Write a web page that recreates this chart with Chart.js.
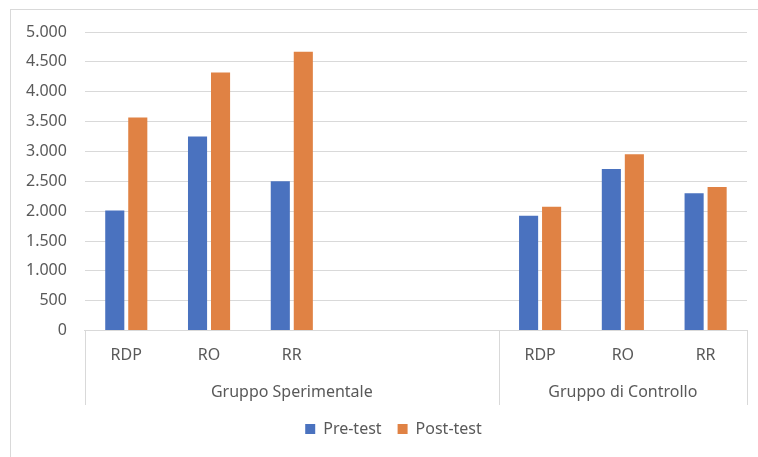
<html>
<body style="margin:0;background:#fff">
  <script src="https://cdn.jsdelivr.net/npm/chart.js@4.4.0/dist/chart.umd.min.js"></script>
  <canvas id="myChart" width="758" height="457"></canvas>
  <script>
    var categories = ['RDP', 'RO', 'RR', '', '', 'RDP', 'RO', 'RR']
    var groups = ['', '', 'Gruppo Sperimentale', '', '', '', 'Gruppo di Controllo', '']
    var preTest = [2010, 3250, 2500, null, null, 1925, 2705, 2300]
    var postTest = [3570, 4320, 4670, null, null, 2075, 2955, 2405]
    var groupEdges = [-0.5, 4.5, 7.5]

    var grey = '#595959'
    var lineGrey = '#D9D9D9'
    Chart.defaults.font.family = "'Noto Sans', sans-serif"
    Chart.defaults.font.size = 16
    Chart.defaults.color = grey

    function fmt(v) {
      return String(v).replace(/\B(?=(\d{3})+(?!\d))/g, '.')
    }

    // outer frame + group separators under the category axis
    var extras = {
      id: 'extras',
      afterLayout: function(chart) {
        // legend sits a bit right of centre in the original
        chart.legend.left += 16
        chart.legend.right += 16
      },
      beforeDraw: function(chart) {
        var c = chart.ctx
        c.save()
        c.fillStyle = '#fff'
        c.fillRect(0, 0, chart.width, chart.height)
        c.strokeStyle = lineGrey
        c.lineWidth = 1
        c.strokeRect(10.5, 9.5, chart.width, chart.height)
        c.restore()
      },
      afterDraw: function(chart) {
        var c = chart.ctx
        var x = chart.scales.x
        var bottom = chart.scales.x2.bottom
        c.save()
        c.strokeStyle = lineGrey
        c.lineWidth = 1
        groupEdges.forEach(function(e) {
          var px = Math.round(x.getPixelForValue(e)) + 0.5
          c.beginPath()
          c.moveTo(px, chart.chartArea.bottom)
          c.lineTo(px, bottom)
          c.stroke()
        })
        c.restore()
      }
    }

    var ctx = document.getElementById('myChart').getContext('2d')
    var myChart = new Chart(ctx, {
      type: 'bar',
      data: {
        labels: categories,
        datasets: [{
          label: 'Pre-test',
          data: preTest,
          backgroundColor: '#4A72BF'
        }, {
          label: 'Post-test',
          data: postTest,
          backgroundColor: '#E08244'
        }]
      },
      options: {
        responsive: false,
        animation: false,
        categoryPercentage: 0.556,
        barPercentage: 0.83,
        layout: { padding: { left: 8, right: 11, top: 32, bottom: 10 } },
        plugins: {
          tooltip: { enabled: false },
          legend: {
            position: 'bottom',
            labels: { boxWidth: 10, boxHeight: 10, padding: 16, color: grey }
          }
        },
        scales: {
          x: {
            grid: { display: false, drawTicks: false },
            border: { display: true, color: lineGrey },
            ticks: { padding: 15, maxRotation: 0, autoSkip: false }
          },
          x2: {
            type: 'category',
            position: 'bottom',
            labels: groups,
            grid: { display: false, drawTicks: false },
            border: { display: false },
            ticks: { padding: 3, maxRotation: 0, autoSkip: false }
          },
          y: {
            min: 0,
            max: 5000,
            grid: { color: lineGrey, drawTicks: false },
            border: { display: false },
            ticks: { stepSize: 500, padding: 18, callback: function(v) { return fmt(v) } }
          }
        }
      },
      plugins: [extras]
    })
  </script>
</body>
</html>
